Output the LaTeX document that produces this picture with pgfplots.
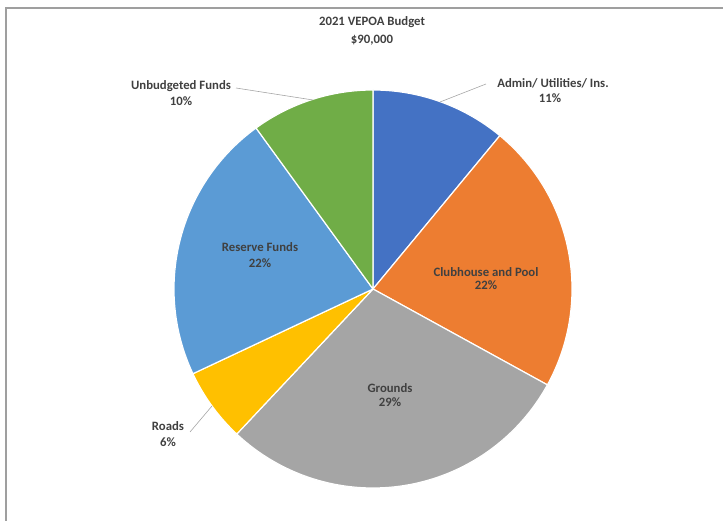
\documentclass[border=0pt]{standalone}
\usepackage{pgfplots}
\usepackage{pgfplotstable}
\pgfplotsset{compat=1.18}
\usepackage{fontspec}
\setmainfont{Carlito}
\definecolor{slice0}{HTML}{4472C4}
\definecolor{slice1}{HTML}{ED7D31}
\definecolor{slice2}{HTML}{A5A5A5}
\definecolor{slice3}{HTML}{FFC000}
\definecolor{slice4}{HTML}{5B9BD5}
\definecolor{slice5}{HTML}{70AD47}
\definecolor{txt}{HTML}{404040}
\definecolor{lead}{HTML}{A6A6A6}
\pgfplotstableread{
name pct
Admin 11
Clubhouse 22
Grounds 29
Roads 6
Reserve 22
Unbudgeted 10
}\budget
\begin{document}
\begin{tikzpicture}
\begin{axis}[at={(0,0)}, anchor=south west, scale only axis, width=723bp, height=521bp,
  xmin=0, xmax=723, ymin=0, ymax=521, hide axis, clip=false]
\xdef\cum{0}
\pgfplotsinvokeforeach{0,...,5}{
  \pgfplotstablegetelem{#1}{pct}\of\budget
  \pgfmathsetmacro\tmpa{90-3.6*\cum}
  \pgfmathsetmacro\tmpb{90-3.6*(\cum+\pgfplotsretval)}
  \pgfmathsetmacro\newcum{\cum+\pgfplotsretval}
  \xdef\cum{\newcum}
  \xdef\sA{\tmpa}\xdef\sB{\tmpb}
  \addplot[fill=slice#1, draw=white, line width=1.2pt, line join=round, domain=\sB:\sA, samples=90, variable=\t]
    ({373+199*cos(\t)},{232+199*sin(\t)}) -- (373,232) -- cycle;
}
% leader lines
\draw[lead, line width=0.6pt] (236,433) -- (313,421);
\draw[lead, line width=0.6pt] (486,437) -- (440,419);
\draw[lead, line width=0.6pt] (190,89) -- (212,115);
% border
\draw[color=gray!75, line width=1.5pt] (6,-5) -- (6,513) -- (730,513);
% labels
\begin{scope}[every node/.style={font=\fontsize{12.8}{15}\selectfont\bfseries, text=txt, inner sep=0pt, align=center}]
\node at (372,499) {2021 VEPOA Budget};
\node at (372,481) {\$90,000};
\node at (181,435) {Unbudgeted Funds};
\node at (181,420) {10\%};
\node at (553,438) {Admin/ Utilities/ Ins.};
\node at (550,423) {11\%};
\node at (260,274) {Reserve Funds};
\node at (260,258) {22\%};
\node at (486,249) {Clubhouse and Pool};
\node at (486,236) {22\%};
\node at (390,133) {Grounds};
\node at (390,119) {29\%};
\node at (168,95) {Roads};
\node at (168,79) {6\%};
\end{scope}
\end{axis}
\pgfresetboundingbox
\useasboundingbox (0,0) rectangle (723bp,521bp);
\end{tikzpicture}
\end{document}
